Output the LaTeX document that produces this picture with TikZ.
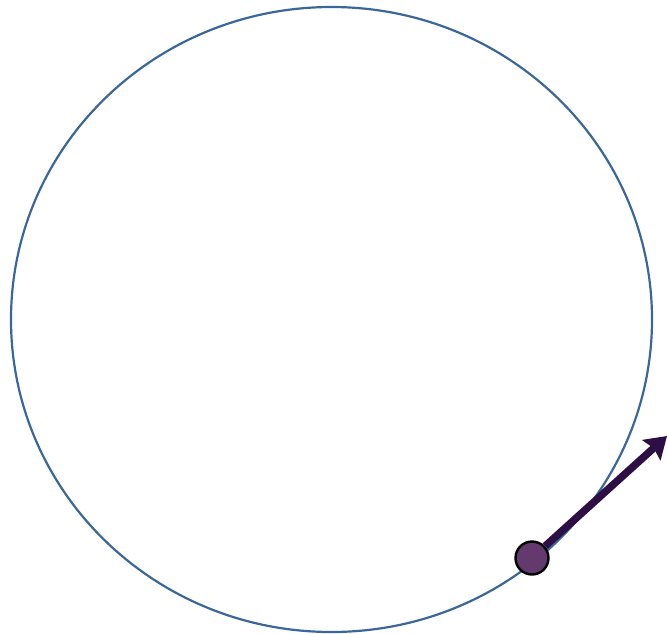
\documentclass[tikz,border=0pt]{standalone}
\usepackage{xcolor}
\usepackage{tikz}
\usetikzlibrary{arrows.meta}
\definecolor{orbitblue}{HTML}{3A679B}
\definecolor{ballpurple}{HTML}{643A6E}
\definecolor{velpurple}{HTML}{2E0F45}

\begin{document}
\begin{tikzpicture}[
    x=1pt, y=-1pt,
    orbit/.style={draw=orbitblue, line width=2.2pt},
    ball/.style={circle, draw=black, line width=2.4pt, fill=ballpurple, minimum size=33pt, inner sep=0pt},
    velocity/.style={draw=velpurple, line width=7.5pt, -{Stealth[length=21pt, width=27pt, inset=3pt]}}
  ]
  \useasboundingbox (0,0) rectangle (667,633);
  % orbit
  \draw[orbit] (331.5,319.5) ellipse [x radius=320.5, y radius=312.5];
  % body and its velocity
  \coordinate (tip) at (667,436);
  \node[ball] (body) at (532,558) {};
  \draw[velocity] (body) -- (tip);
\end{tikzpicture}
\end{document}
